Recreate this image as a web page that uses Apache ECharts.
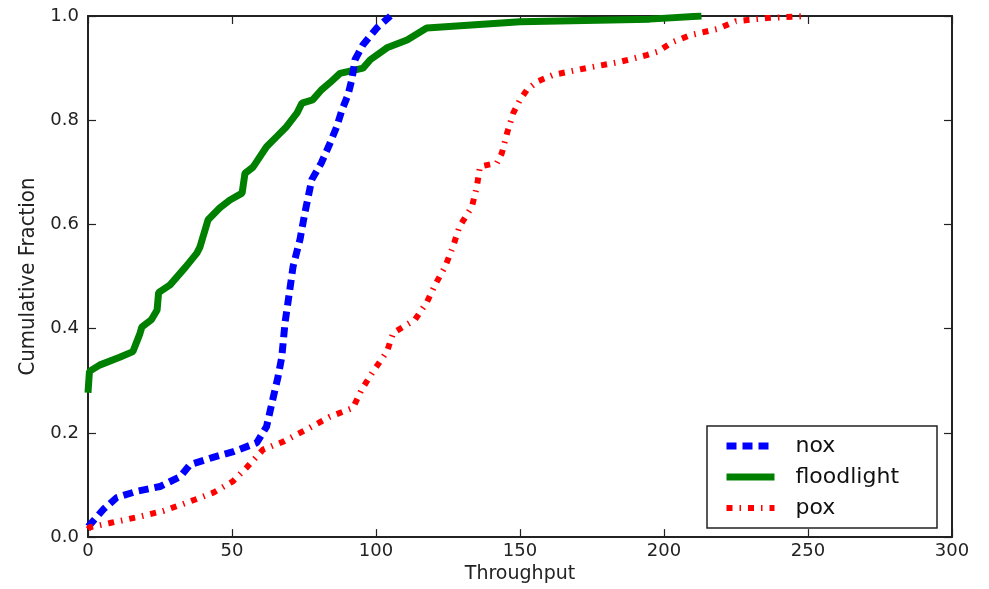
<!DOCTYPE html>
<html>
<head>
<meta charset="utf-8">
<script src="https://cdn.jsdelivr.net/npm/echarts@6/dist/echarts.min.js"></script>
<style>
    html, body { margin: 0; padding: 0; background: #fff; }
    #chart { width: 989px; height: 589px; }
</style>
</head>
<body>
<div id="chart"></div>
<script>
// throughput CDF - nox / floodlight / pox

var xTicks = [0, 50, 100, 150, 200, 250, 300];
var yTicks = [0, 0.2, 0.4, 0.6, 0.8, 1.0];

var noxX = [0, 0.7, 5.3, 10, 17, 25, 32, 35.4, 43.4, 50.5, 58.6, 62, 64.4, 66, 67.3, 68.4, 70, 71.2, 73.6, 75.3, 77.7, 81, 83.5, 86.4, 88.2, 90.3, 91.7, 92.7, 95.5, 100.3, 105];
var noxY = [0.02, 0.024, 0.053, 0.076, 0.088, 0.097, 0.116, 0.139, 0.153, 0.164, 0.181, 0.212, 0.27, 0.308, 0.346, 0.411, 0.472, 0.519, 0.571, 0.622, 0.686, 0.718, 0.749, 0.788, 0.82, 0.849, 0.88, 0.916, 0.945, 0.977, 1.0];

var floodX = [0, 0.5, 4, 11, 15.6, 18, 18.7, 22, 24, 24.5, 28.5, 34, 37.8, 38.9, 41, 41.7, 45.8, 49.3, 53.5, 54.5, 57.3, 62, 65.6, 69, 72.6, 74.3, 78, 81, 84, 87.5, 95.5, 98, 103.8, 110.8, 117.6, 150, 195, 213];
var floodY = [0.277, 0.318, 0.33, 0.345, 0.356, 0.39, 0.403, 0.417, 0.436, 0.469, 0.484, 0.519, 0.545, 0.557, 0.596, 0.609, 0.632, 0.647, 0.66, 0.698, 0.71, 0.749, 0.769, 0.788, 0.814, 0.833, 0.839, 0.858, 0.872, 0.89, 0.9, 0.916, 0.939, 0.954, 0.977, 0.989, 0.994, 1.0];

var poxX = [0, 0.7, 7.6, 17, 26, 34.3, 43.4, 50.3, 55, 60.8, 67.7, 75.7, 84, 92, 95, 99, 103.8, 106, 113.5, 117.6, 120.5, 124, 126.7, 129, 133.3, 135, 136.1, 142, 143.7, 145.5, 147.6, 150, 152.4, 155.9, 161.5, 173, 184.7, 194, 197.6, 203, 209, 218.4, 225, 235.7, 249.7];
var poxY = [0.015, 0.019, 0.027, 0.038, 0.05, 0.066, 0.085, 0.107, 0.133, 0.168, 0.183, 0.206, 0.231, 0.248, 0.283, 0.318, 0.356, 0.392, 0.417, 0.45, 0.484, 0.519, 0.557, 0.596, 0.634, 0.672, 0.711, 0.718, 0.737, 0.775, 0.813, 0.839, 0.858, 0.874, 0.887, 0.9, 0.912, 0.925, 0.931, 0.95, 0.963, 0.975, 0.99, 0.996, 1.0];

function zip(xs, ys) {
    var out = [];
    for (var i = 0; i < xs.length; i++) {
        out.push([xs[i], ys[i]]);
    }
    return out;
}

var axisColor = '#222';
var labelFont = 'DejaVu Sans';

// line looks, shared by series and legend
var noxLine = { color: '#0000ff', width: 7, type: [10, 6], cap: 'butt' };
var floodLine = { color: '#008000', width: 7, type: 'solid' };
var poxLine = { color: '#ff0000', width: 6, type: [6, 7, 1.5, 7], cap: 'butt' };

function valueAxis(ticks, extra) {
    var ax = {
        type: 'value',
        min: ticks[0],
        max: ticks[ticks.length - 1],
        interval: ticks[1] - ticks[0],
        splitLine: { show: false },
        axisLine: { show: true, onZero: false, lineStyle: { color: axisColor, width: 2 } },
        axisTick: { show: true, inside: true, length: 8, lineStyle: { color: axisColor, width: 1.2 } },
        axisLabel: { show: false }
    };
    return Object.assign(ax, extra);
}

var option = {
    backgroundColor: '#fff',
    animation: false,
    grid: {
        left: 88,
        right: 37,
        top: 16,
        bottom: 51
    },
    legend: {
        orient: 'vertical',
        left: 707,
        top: 426,
        padding: [9, 38, 9, 16],
        itemGap: 9,
        itemWidth: 48,
        itemHeight: 14,
        borderColor: axisColor,
        borderWidth: 1.5,
        backgroundColor: '#fff',
        itemStyle: { opacity: 0 },
        textStyle: {
            fontFamily: labelFont,
            fontSize: 22,
            color: '#111',
            padding: [0, 0, 0, 16]
        },
        data: [
            { name: 'nox', lineStyle: noxLine },
            { name: 'floodlight', lineStyle: floodLine },
            { name: 'pox', lineStyle: poxLine }
        ]
    },
    xAxis: [
        valueAxis(xTicks, {
            position: 'bottom',
            name: 'Throughput',
            nameLocation: 'middle',
            nameGap: 23,
            nameTextStyle: { fontFamily: labelFont, fontSize: 19, color: '#222' },
            axisLabel: {
                show: true,
                margin: 5,
                fontFamily: labelFont,
                fontSize: 18,
                color: '#222'
            }
        }),
        valueAxis(xTicks, { position: 'top' })
    ],
    yAxis: [
        valueAxis(yTicks, {
            position: 'left',
            name: 'Cumulative Fraction',
            nameLocation: 'middle',
            nameGap: 49,
            nameRotate: 90,
            nameTextStyle: {
                fontFamily: '"Liberation Sans Narrow", "DejaVu Sans Condensed", "Liberation Sans", sans-serif',
                fontSize: 22,
                color: '#222'
            },
            axisLabel: {
                show: true,
                margin: 9,
                fontFamily: labelFont,
                fontSize: 18,
                color: '#222',
                formatter: function (v) { return v.toFixed(1); }
            }
        }),
        valueAxis(yTicks, { position: 'right' })
    ],
    series: [
        {
            name: 'nox',
            type: 'line',
            symbol: 'none',
            z: 3,
            data: zip(noxX, noxY),
            lineStyle: noxLine,
            itemStyle: { color: '#0000ff' }
        },
        {
            name: 'floodlight',
            type: 'line',
            symbol: 'none',
            z: 2,
            data: zip(floodX, floodY),
            lineStyle: floodLine,
            itemStyle: { color: '#008000' }
        },
        {
            name: 'pox',
            type: 'line',
            symbol: 'none',
            z: 4,
            data: zip(poxX, poxY),
            lineStyle: poxLine,
            itemStyle: { color: '#ff0000' }
        }
    ]
};

var myChart = echarts.init(document.getElementById('chart'));
myChart.setOption(option);
</script>
</body>
</html>
